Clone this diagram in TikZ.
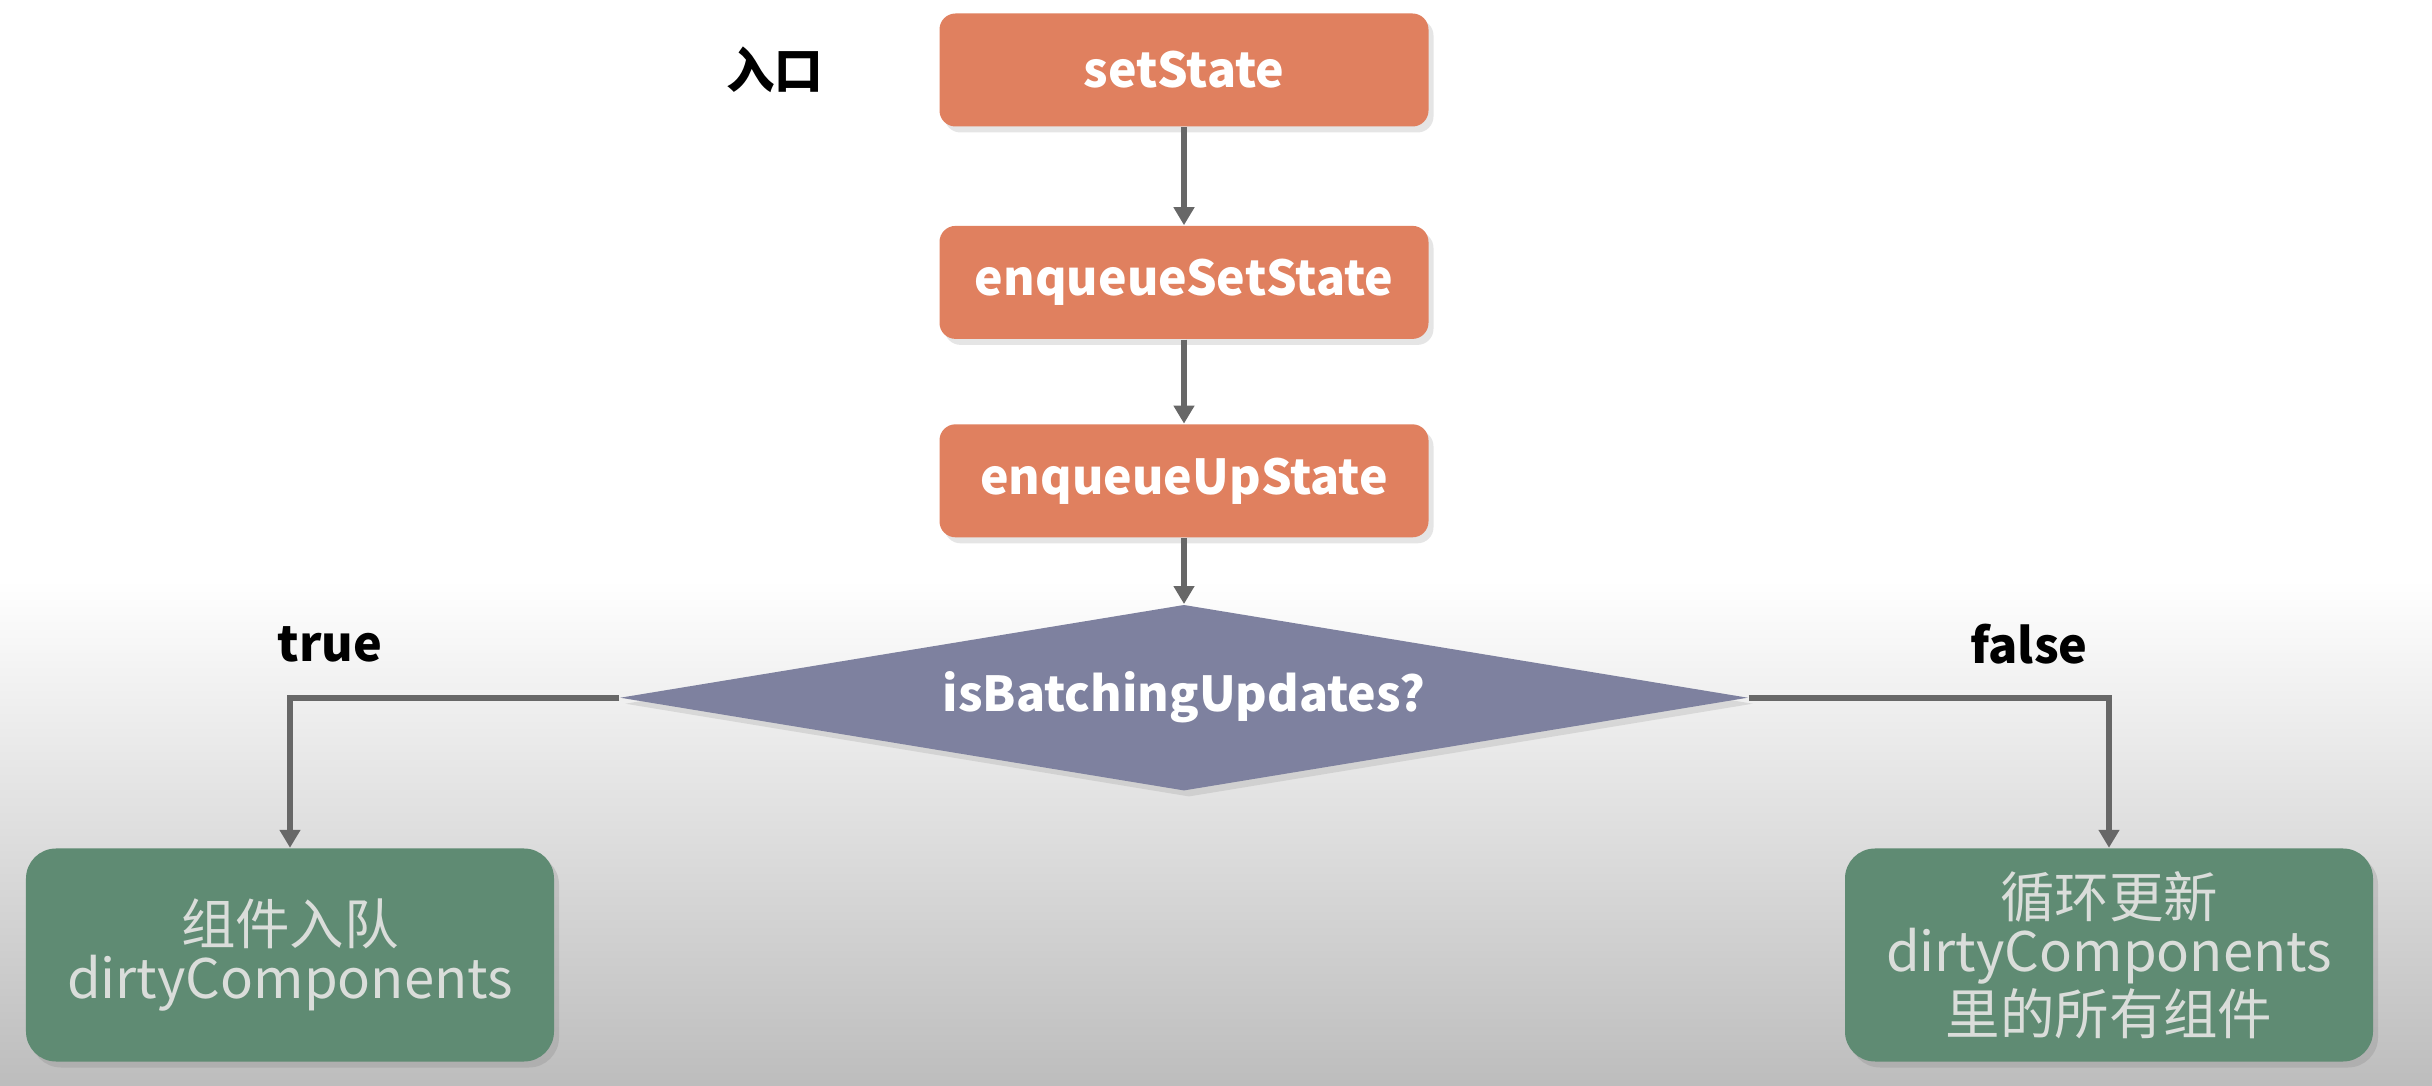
\documentclass[tikz,border=0pt]{standalone}
\usepackage{fontspec}
\setmainfont{Noto Sans CJK SC}
\usepackage{tikz}
\usetikzlibrary{arrows.meta,positioning,shapes.geometric,shadows}

\definecolor{callorange}{HTML}{E0805F}
\definecolor{checkblue}{HTML}{7E819F}
\definecolor{resgreen}{HTML}{5F8B73}
\definecolor{restext}{HTML}{DADDDA}
\definecolor{linkgray}{HTML}{676767}

\begin{document}
\begin{tikzpicture}[>={Triangle[width=2mm,length=1.8mm]}, every node/.style={align=center},
  fnbox/.style={fill=callorange,rounded corners=1.6mm,minimum width=48.9mm,minimum height=11.3mm,text=white,font=\fontsize{13.7}{17}\selectfont\bfseries,drop shadow={opacity=0.2,shadow xshift=0.5mm,shadow yshift=-0.6mm}},
  check/.style={diamond,aspect=6.06,fill=checkblue,inner sep=0pt,minimum width=112.8mm,minimum height=18.6mm,text=white,font=\fontsize{13.7}{17}\selectfont\bfseries,drop shadow={opacity=0.2,shadow xshift=0.5mm,shadow yshift=-0.6mm}},
  resbox/.style={fill=resgreen,rounded corners=3mm,minimum width=52.8mm,minimum height=21.3mm,text=restext,font=\fontsize{15.5}{15.5}\selectfont,drop shadow={opacity=0.25,shadow xshift=0.5mm,shadow yshift=-0.6mm}},
  tag/.style={font=\fontsize{13.8}{17}\selectfont\bfseries},
  link/.style={->,draw=linkgray,line width=1.6pt}]
% background
\fill[white] (0,0) rectangle (24.32,-5.8);
\shade[top color=white,bottom color=gray!52] (0,-5.8) rectangle (24.32,-10.86);
\useasboundingbox (0,0) rectangle (24.32,-10.86);

\node (set) [fnbox] at (11.84,-0.70) {setState};
\node (enqset) [fnbox,below=9.8mm of set] {enqueueSetState};
\node (enqup) [fnbox,below=8.4mm of enqset] {enqueueUpState};
\node (batch) [check,below=6.6mm of enqup] {isBatchingUpdates?};
\node (entry) [tag,left=10.3mm of set] {入口};

\node (queue) [resbox] at (2.90,-9.55) {组件入队\\dirtyComponents};
\node (flush) [resbox] at (21.09,-9.55) {循环更新\\dirtyComponents\\里的所有组件};

\node (yes) [tag] at (3.30,-6.44) {true};
\node (no) [tag] at (20.29,-6.44) {false};

\draw[link] (set) -- (enqset);
\draw[link] (enqset) -- (enqup);
\draw[link] (enqup) -- (batch);
\draw[link] (batch.west) -| (queue);
\draw[link] (batch.east) -| (flush);
\end{tikzpicture}
\end{document}
